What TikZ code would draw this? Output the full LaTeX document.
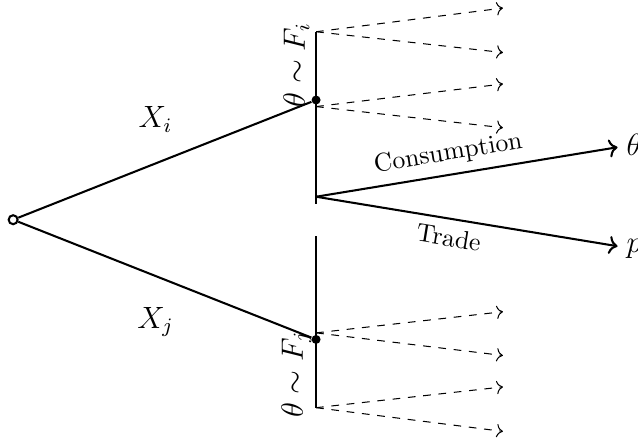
\documentclass[tikz,border=0pt]{standalone}
\usepackage{amsmath,amssymb}
\usetikzlibrary{arrows.meta,positioning,calc}
\tikzset{
  branch/.style={thick},
  move/.style={->,thick},
  signal/.style={->,dashed},
  dot/.style={circle,fill,inner sep=0pt,minimum size=3.5pt},
  rootdot/.style={circle,draw,thick,inner sep=0pt,minimum size=3.5pt},
  typelabel/.style={rotate=90,font=\large},
  biglabel/.style={font=\large}
}

\begin{document}
\begin{tikzpicture}
  \useasboundingbox (-0.18,-2.99) rectangle (8.56,3.01);
  % nodes of the tree
  \node[rootdot] (root) at (0,0) {};
  \node[dot] (ni) at (4.15,1.64) {};
  \node[dot] (nj) at (4.15,-1.64) {};
  % type intervals
  \coordinate (ti) at (4.15,2.575);
  \coordinate (bi) at (4.15,0.22);
  \coordinate (si) at (4.15,1.55);
  \coordinate (tj) at (4.15,-2.575);
  \coordinate (bj) at (4.15,-0.22);
  \coordinate (sj) at (4.15,-1.55);
  \coordinate (c) at (4.15,0.315);
  % ends of the signals
  \coordinate (ei1) at (6.71,2.90);
  \coordinate (ei2) at (6.71,2.29);
  \coordinate (ei3) at (6.71,1.86);
  \coordinate (ei4) at (6.71,1.26);
  \coordinate (ej1) at (6.71,-1.26);
  \coordinate (ej2) at (6.71,-1.86);
  \coordinate (ej3) at (6.71,-2.29);
  \coordinate (ej4) at (6.71,-2.90);
  \node[biglabel,anchor=west] (theta) at (8.28,1.03) {$\theta$};
  \node[biglabel,anchor=west] (price) at (8.28,-0.40) {$p$};
  \node[biglabel] (xi) at (1.95,1.37) {$X_i$};
  \node[biglabel] (xj) at (1.95,-1.40) {$X_j$};
  \node[typelabel] (fi) at (3.88,2.12) {$\theta\sim F_i$};
  \node[typelabel] (fj) at (3.88,-2.12) {$\theta\sim F_j$};

  \draw[branch] (root) -- (ni);
  \draw[branch] (root) -- (nj);
  \draw[branch] (ti) -- (bi);
  \draw[branch] (tj) -- (bj);
  \draw[signal] (ti) -- (ei1);
  \draw[signal] (ti) -- (ei2);
  \draw[signal] (si) -- (ei3);
  \draw[signal] (si) -- (ei4);
  \draw[signal] (sj) -- (ej1);
  \draw[signal] (sj) -- (ej2);
  \draw[signal] (tj) -- (ej3);
  \draw[signal] (tj) -- (ej4);
  \draw[move] (c) -- node[pos=0.45,above,sloped] {Consumption} (theta);
  \draw[move] (c) -- node[pos=0.45,below,sloped] {Trade} (price);
\end{tikzpicture}
\end{document}
